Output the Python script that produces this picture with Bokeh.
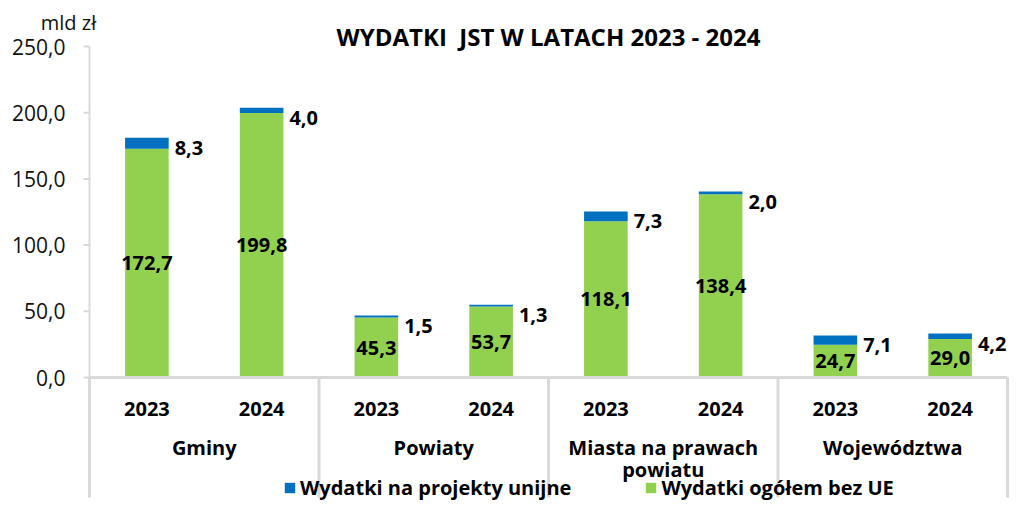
from bokeh.plotting import figure
from bokeh.models import Range1d, ColumnDataSource, Legend, LegendItem
from bokeh.core.properties import value
from bokeh.embed import file_html
from bokeh.resources import INLINE

# ---------------- data ----------------
groups = ["Gminy", "Powiaty", "Miasta na prawach\npowiatu", "Województwa"]
years = ["2023", "2024"]
bez_ue = [172.7, 199.8, 45.3, 53.7, 118.1, 138.4, 24.7, 29.0]   # Wydatki ogółem bez UE
unijne = [8.3, 4.0, 1.5, 1.3, 7.3, 2.0, 7.1, 4.2]               # Wydatki na projekty unijne
y_ticks = [0, 50, 100, 150, 200, 250]
title_text = "WYDATKI \u00a0JST W LATACH 2023 - 2024"
unit_text = "mld zł"
series_names = ["Wydatki na projekty unijne", "Wydatki ogółem bez UE"]

# ---------------- styling ----------------
GREEN = "#92d050"
BLUE = "#0070c0"
GRID = "#d9d9d9"
FONT = "Open Sans"
W, H = 1009, 501
AXIS_X = 89          # figure px of the value axis
RIGHT_X = 1007       # figure px of the right frame line
ZERO_PX = 377        # figure px row of value 0
TOP_PX = 46          # figure px row of the top tick
BAR_W = 0.38
LINE_H = 0.79        # line height of wrapped group labels
LINE_GAP = 22        # resulting px between those lines

n_g, n_y = len(groups), len(years)
n_slots = n_g * n_y
XPX = (RIGHT_X - AXIS_X) / n_slots
YPX = (ZERO_PX - TOP_PX) / (y_ticks[-1] - y_ticks[0])

fmt = lambda v: f"{v:.1f}".replace(".", ",")

xs = [g * n_y + j + 0.5 for g in range(n_g) for j in range(n_y)]
src = ColumnDataSource(dict(
    x=xs,
    bez=bez_ue,
    ue=unijne,
    mid=[b / 2 for b in bez_ue],
    total=[b + u for b, u in zip(bez_ue, unijne)],
    bez_lbl=[fmt(v) for v in bez_ue],
    ue_lbl=[fmt(v) for v in unijne],
    year=[y for g in groups for y in years],
))

p = figure(width=W, height=H, output_backend="svg", toolbar_location=None,
           x_range=Range1d(-AXIS_X / XPX, n_slots + (W - RIGHT_X) / XPX),
           y_range=Range1d(-(H - ZERO_PX) / YPX, y_ticks[-1] + TOP_PX / YPX),
           x_axis_location=None, y_axis_location=None,
           min_border_left=0, min_border_right=0, min_border_top=0, min_border_bottom=0)
p.outline_line_color = None
p.grid.visible = False
p.background_fill_color = "white"
p.border_fill_color = "white"

r_bez, r_ue = p.vbar_stack(["bez", "ue"], x="x", width=BAR_W, source=src,
                           color=[GREEN, BLUE], line_color=None)

# value axis: line, ticks, labels
tick_len = 6 / XPX
p.segment(x0=[0], y0=[y_ticks[0]], x1=[0], y1=[y_ticks[-1]], line_color=GRID, line_width=2)
p.segment(x0=[-tick_len] * len(y_ticks), y0=y_ticks, x1=[0] * len(y_ticks), y1=y_ticks,
          line_color=GRID, line_width=2)
p.text(x=[0] * len(y_ticks), y=y_ticks, text=[fmt(t) for t in y_ticks], x_offset=-24,
       text_align="right", text_baseline="middle", text_font=value(FONT),
       text_font_size="21px", text_color="#111111")

# category-axis frame lines
sep_x = [i * n_y for i in range(n_g + 1)]
sep_bottom = -(497 - ZERO_PX) / YPX
p.segment(x0=sep_x, y0=[0] * len(sep_x), x1=sep_x, y1=[sep_bottom] * len(sep_x),
          line_color=GRID, line_width=3)
p.segment(x0=[0], y0=[0], x1=[n_slots], y1=[0], line_color=GRID, line_width=3)

# data labels
p.text(x="x", y="mid", text="bez_lbl", source=src, text_align="center",
       text_baseline="middle", text_font=value(FONT), text_font_style="bold",
       text_font_size="20px", text_color="black")
off = BAR_W * XPX / 2 + 6
p.text(x="x", y="total", text="ue_lbl", source=src, x_offset=off, y_offset=10,
       text_align="left", text_baseline="middle", text_font=value(FONT),
       text_font_style="bold", text_font_size="20px", text_color="black")

# category labels
p.text(x="x", y=0, text="year", source=src, y_offset=31, text_align="center",
       text_baseline="middle", text_font=value(FONT), text_font_style="bold",
       text_font_size="20px", text_color="black")
gsrc = ColumnDataSource(dict(
    x=[g * n_y + n_y / 2 for g in range(n_g)],
    y=[0] * n_g,
    t=groups,
    yo=[70 + t.count("\n") * LINE_GAP / 2 for t in groups],
))
p.text(x="x", y="y", text="t", source=gsrc, y_offset="yo", text_align="center",
       text_baseline="middle", text_font=value(FONT), text_font_style="bold",
       text_font_size="20px", text_color="black", text_line_height=LINE_H)

# title and unit
p.text(x=[n_slots / 2], y=[y_ticks[-1]], text=[title_text], y_offset=-10,
       text_align="center", text_baseline="middle", text_font=value(FONT),
       text_font_style="bold", text_font_size="24px", text_color="black")
p.text(x=[0], y=[y_ticks[-1]], text=[unit_text], x_offset=-21, y_offset=-24,
       text_align="center", text_baseline="middle", text_font=value(FONT),
       text_font_size="20px", text_color="#111111")

legend = Legend(items=[LegendItem(label=series_names[0], renderers=[r_ue]),
                       LegendItem(label=series_names[1], renderers=[r_bez])],
                orientation="horizontal", location=(283, 0),
                glyph_width=13, glyph_height=13, label_standoff=4, spacing=73,
                padding=0, margin=0, border_line_color=None,
                background_fill_alpha=0, label_height=20,
                label_text_font=FONT, label_text_font_style="bold",
                label_text_font_size="20px", label_text_color="black")
p.add_layout(legend)

open("out.html", "w").write(file_html(p, INLINE))
